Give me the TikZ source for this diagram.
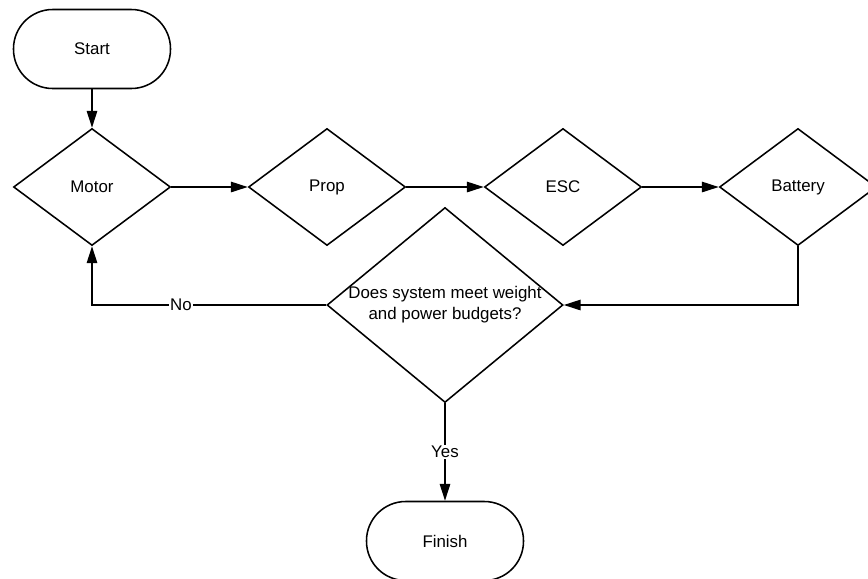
\documentclass[tikz,border=0pt]{standalone}
\usepackage{fontspec}
\setmainfont{Liberation Sans}
\usetikzlibrary{shapes.geometric,arrows.meta}

\begin{document}
\begin{tikzpicture}[line width=1.1pt, font=\fontsize{12}{15}\selectfont,
  term/.style={rectangle, draw=black, rounded corners=0.98cm, minimum width=3.925cm, minimum height=1.975cm, inner sep=0pt},
  choice/.style={diamond, draw=black, minimum width=3.925cm, minimum height=2.925cm, inner sep=0pt},
  tag/.style={fill=white, inner sep=1pt}]
 \useasboundingbox (0,0) rectangle (21.7,-14.45);
 \begin{scope}
    \node[term] (start) at (2.3, -1.225) {Start};

    \node[choice] (motor) at (2.3, -4.675) {Motor};
    \node[choice] (prop) at (8.175, -4.675) {Prop};
    \node[choice] (esc) at (14.075, -4.675) {ESC};
    \node[choice] (battery) at (19.95, -4.675) {Battery};

    \node[choice, minimum width=5.9cm, minimum height=4.875cm] (check) at (11.125, -7.625) {};
    \node[align=center] (checktext) at (check) {Does system meet weight\\and power budgets?};

    \node[term] (finish) at (11.125, -13.525) {Finish};
    \begin{scope}[every path/.style={-{Triangle[length=4.2mm, width=2.6mm]}}]
       	\draw (start) -- (motor);
       	\draw (motor) -- (prop);
       	\draw (prop) -- (esc);
       	\draw (esc) -- (battery);

       	\draw (battery.south) |- (check.east);
       	\draw (check.west) -| node[tag, pos=0.31] {No} (motor.south);
       	\draw (check.south) -- node[tag] {Yes} (finish);
    \end{scope}
 \end{scope}
\end{tikzpicture}
\end{document}
